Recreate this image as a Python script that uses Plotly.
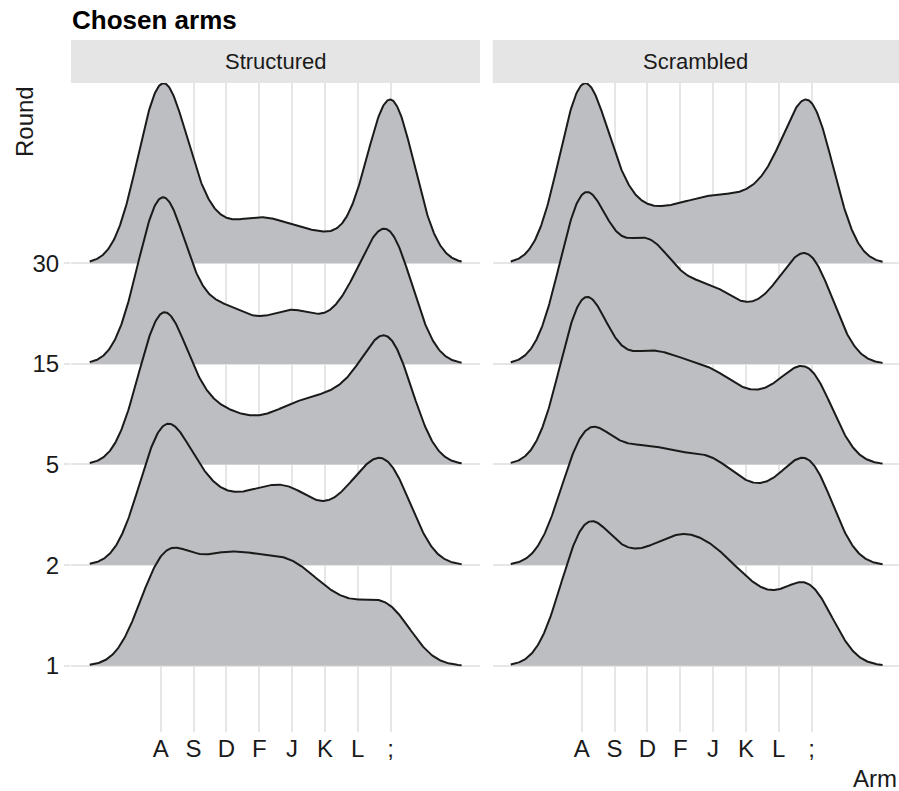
import numpy as np
import plotly.graph_objects as go

# Keyboard arms and rounds
arms = ["A", "S", "D", "F", "J", "K", "L", ";"]
rounds = ["1", "2", "5", "15", "30"]

# Share of choices (%) per arm, by round — Structured condition
structured_r1 = [19.4, 11.6, 15.1, 13.1, 14.3, 9.2, 6.9, 10.4]
structured_r2 = [25.5, 11.8, 7.7, 9.6, 11.1, 5.1, 11.3, 17.8]
structured_r5 = [30.2, 7.7, 7.0, 4.8, 8.1, 8.5, 9.8, 23.8]
structured_r15 = [34.6, 5.0, 8.9, 3.6, 8.9, 3.4, 10.4, 25.1]
structured_r30 = [36.8, 7.2, 3.9, 6.8, 4.4, 4.0, 1.2, 35.7]

# Share of choices (%) per arm, by round — Scrambled condition
scrambled_r1 = [21.5, 11.0, 12.0, 14.8, 13.2, 9.1, 5.9, 12.6]
scrambled_r2 = [19.9, 11.2, 13.4, 11.1, 12.6, 7.7, 7.9, 16.2]
scrambled_r5 = [27.6, 8.3, 13.5, 10.6, 10.9, 6.8, 7.7, 14.6]
scrambled_r15 = [28.5, 7.9, 17.1, 7.3, 9.7, 4.5, 7.9, 17.1]
scrambled_r30 = [30.8, 7.3, 5.3, 6.2, 7.6, 6.8, 9.5, 26.5]

panels = [
    ("Structured", [structured_r1, structured_r2, structured_r5, structured_r15, structured_r30]),
    ("Scrambled", [scrambled_r1, scrambled_r2, scrambled_r5, scrambled_r15, scrambled_r30]),
]

BW = 0.72          # kernel bandwidth (arm units)
RIDGE_SCALE = 1.79  # tallest ridge relative to row spacing

FILL = "#bdbec1"
LINE = "#1a1a1a"
GRID = "#e6e6e6"
TEXT = "#1a1a1a"
FONT = "Liberation Sans, Arial, sans-serif"

arm_pos = np.arange(1, len(arms) + 1)
grid_x = np.linspace(arm_pos[0] - 3 * BW, arm_pos[-1] + 3 * BW, 512)


def kde(shares):
    w = np.asarray(shares, float)
    w = w / w.sum()
    z = (grid_x[:, None] - arm_pos[None, :]) / BW
    return (np.exp(-0.5 * z ** 2) * w[None, :]).sum(axis=1) / (BW * np.sqrt(2 * np.pi))


fig = go.Figure()

W, H = 899, 791
x_domains = [[71 / W, 480 / W], [492.7 / W, 1.0]]
x_ranges = [[-1.73, 10.72], [-1.71, 10.66]]
y_domain = [59 / H, 708 / H]
y_range = [0.341, 6.792]

for p, (name, series) in enumerate(panels):
    xa = "x" if p == 0 else "x2"
    ya = "y" if p == 0 else "y2"
    dens = [kde(s) for s in series]
    peak = max(d.max() for d in dens)
    # draw from the top row downwards so lower ridges overlap upper ones
    for i in reversed(range(len(series))):
        base = i + 1
        top = base + dens[i] / peak * RIDGE_SCALE
        fig.add_trace(go.Scatter(
            x=np.concatenate([grid_x, grid_x[::-1]]),
            y=np.concatenate([top, np.full_like(grid_x, base)]),
            fill="toself", fillcolor=FILL, line=dict(width=0),
            mode="lines", xaxis=xa, yaxis=ya, hoverinfo="skip", showlegend=False,
        ))
        fig.add_trace(go.Scatter(
            x=grid_x, y=top, mode="lines",
            line=dict(color=LINE, width=2),
            xaxis=xa, yaxis=ya, hoverinfo="skip", showlegend=False,
        ))

xaxis_common = dict(
    tickmode="array", tickvals=list(arm_pos), ticktext=arms,
    showgrid=True, gridcolor=GRID, gridwidth=1.8, zeroline=False,
    showline=False, ticks="", tickfont=dict(family=FONT, size=24, color=TEXT),
)
yaxis_common = dict(
    tickmode="array", tickvals=list(range(1, len(rounds) + 1)), ticktext=rounds,
    showgrid=True, gridcolor=GRID, gridwidth=1.8, zeroline=False,
    showline=False, range=y_range, domain=y_domain,
    tickfont=dict(family=FONT, size=24, color=TEXT),
)

fig.update_layout(
    width=W, height=H, margin=dict(l=0, r=0, t=0, b=0),
    paper_bgcolor="white", plot_bgcolor="white",
    xaxis=dict(xaxis_common, domain=x_domains[0], range=x_ranges[0], anchor="y"),
    xaxis2=dict(xaxis_common, domain=x_domains[1], range=x_ranges[1], anchor="y2"),
    yaxis=dict(yaxis_common, anchor="x", ticks="outside", ticklen=6,
               tickcolor=GRID, tickwidth=1.8, ticklabelstandoff=0),
    yaxis2=dict(yaxis_common, anchor="x2", showticklabels=False, ticks=""),
)

# facet strips
for p, (name, _) in enumerate(panels):
    x0, x1 = x_domains[p]
    fig.add_shape(type="rect", xref="paper", yref="paper",
                  x0=x0, x1=x1, y0=1 - 83 / H, y1=1 - 40 / H,
                  fillcolor="#e5e5e5", line=dict(width=0), layer="below")
    fig.add_annotation(text=name, xref="paper", yref="paper",
                       x=(x0 + x1) / 2, y=1 - 61.5 / H, showarrow=False,
                       xanchor="center", yanchor="middle",
                       font=dict(family=FONT, size=22, color=TEXT))

# title and axis titles
fig.add_annotation(text="<b>Chosen arms</b>", xref="paper", yref="paper",
                   x=70 / W, y=1 - 20 / H, xanchor="left", yanchor="middle",
                   showarrow=False, font=dict(family=FONT, size=26, color="black"))
fig.add_annotation(text="Round", xref="paper", yref="paper",
                   x=24 / W, y=1 - 122 / H, textangle=-90,
                   xanchor="center", yanchor="middle", showarrow=False,
                   font=dict(family=FONT, size=24, color=TEXT))
fig.add_annotation(text="Arm", xref="paper", yref="paper",
                   x=1.0, y=1 - 778 / H, xanchor="right", yanchor="middle",
                   showarrow=False, font=dict(family=FONT, size=24, color=TEXT))

fig.write_html("out.html")
